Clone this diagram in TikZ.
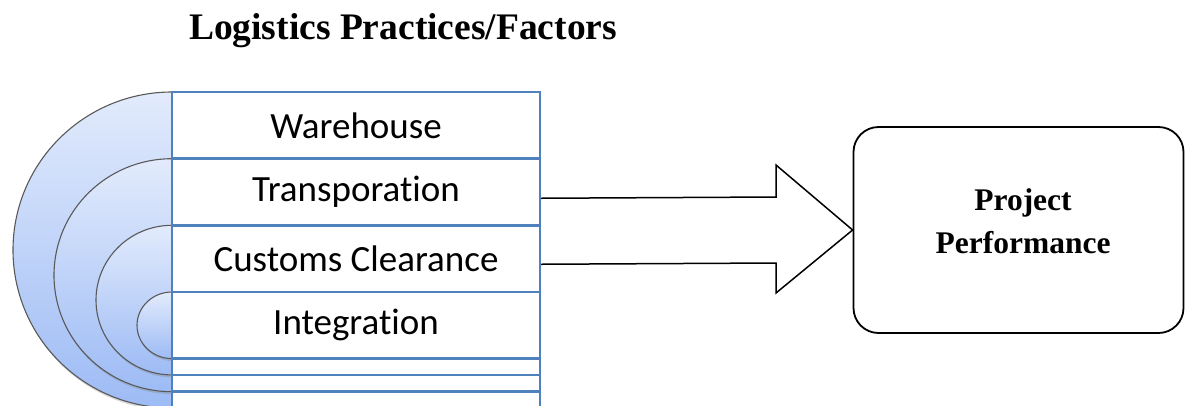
\documentclass[tikz,border=0pt]{standalone}
\usepackage{fontspec}
\setmainfont{Liberation Serif}
\newfontfamily\rowfont[Ligatures=NoCommon]{Carlito}
\usetikzlibrary{calc,shadows}
\definecolor{rowblue}{HTML}{4F81BD}
\definecolor{arctop}{HTML}{E2EBFC}
\definecolor{arcbot}{HTML}{9DBBF5}

\begin{document}
\begin{tikzpicture}[x=1pt, y=1pt,
		rowbox/.style={draw=rowblue, line width=2.4pt, fill=white, inner sep=0pt, minimum width=368, minimum height=66.7, font=\rowfont\fontsize{37}{42}\selectfont},
		thinrow/.style={rowbox, minimum height=16.4},
		ring/.style={draw=black!65, line width=1.1pt, top color=arctop, bottom color=arcbot, drop shadow={opacity=0.3, shadow xshift=1pt, shadow yshift=-2.5pt}},
		heading/.style={font=\bfseries\fontsize{37.5}{44}\selectfont},
		resultbox/.style={draw, line width=1.8pt, rounded corners=25, fill=white, minimum width=330, minimum height=206}]
		\path[use as bounding box, clip] (0,0) rectangle (1185,-405);

		% title
		\node[heading] (title) at (403,-31) {Logistics Practices/Factors};

		% half rings behind the list
		\draw[ring] (172,-92) arc[start angle=90, end angle=270, x radius=159, y radius=158] -- cycle;
		\draw[ring] (172,-158.7) arc[start angle=90, end angle=270, x radius=118, y radius=116.5] -- cycle;
		\draw[ring] (172,-225.3) arc[start angle=90, end angle=270, x radius=76, y radius=74.8] -- cycle;
		\draw[ring] (172,-292) arc[start angle=90, end angle=270, x radius=35, y radius=33.3] -- cycle;

		% list of factors
		\node[rowbox] (ware) at (356,-125.3) {Warehouse};
		\node[rowbox] (trans) at (356,-192) {Transporation};
		\node[rowbox] (customs) at (356,-258.7) {Customs Clearance};
		\node[rowbox] (integ) at (356,-325.3) {Integration};
		\node[thinrow] (extraA) at (356,-366.9) {};
		\node[thinrow] (extraB) at (356,-383.3) {};
		\node[thinrow] (extraC) at (356,-399.7) {};

		% result
		\node[resultbox] (perf) at (1018.5,-230) {};
		\node[align=center, font=\bfseries\fontsize{31.5}{43}\selectfont] (perftext) at (1023,-221) {Project\\Performance};

		% block arrow
		\draw[line width=1.5pt, fill=white, line join=miter]
			($(trans.south east)+(0,28.3)$) -- (776,-197) -- (776,-165) -- (perf.west)
			-- (776,-293) -- (776,-263) -- ($(trans.south east)+(0,-37.7)$);
	\end{tikzpicture}
\end{document}
